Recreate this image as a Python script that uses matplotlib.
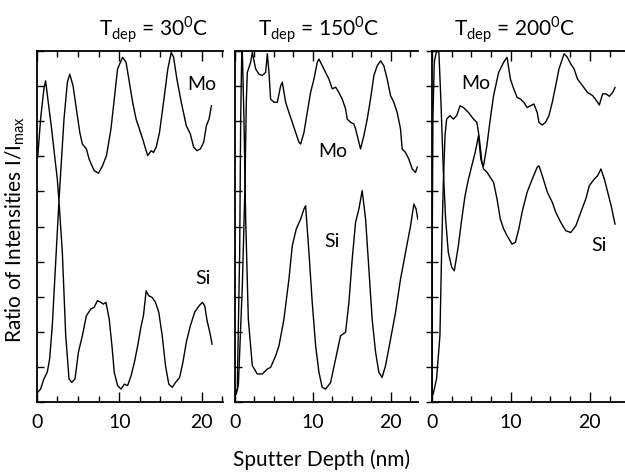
import matplotlib
matplotlib.use("Agg")
import matplotlib.pyplot as plt
from matplotlib.ticker import MultipleLocator

plt.rcParams['font.family'] = ['Lato', 'DejaVu Sans']
plt.rcParams['mathtext.fontset'] = 'custom'
plt.rcParams['mathtext.rm'] = 'Lato'

# T_dep = 30 C
mo30_x = [0.1, 0.45, 0.85, 1.06, 1.38, 1.79, 2.20, 2.48, 2.68, 2.89, 3.29, 3.70, 3.99, 4.39, 4.79,
          5.21, 5.52, 6.01, 6.34, 6.95, 7.48, 7.96, 8.45, 8.99, 9.39, 9.79, 10.40, 10.82, 11.22,
          11.62, 12.04, 12.44, 12.84, 13.13, 13.45, 13.87, 14.15, 14.48, 14.88, 15.37, 15.89,
          16.30, 16.59, 16.99, 17.52, 18.13, 18.62, 19.02, 19.43, 19.84, 20.24, 20.57, 20.89, 21.18]
mo30_y = [0.697, 0.806, 0.892, 0.915, 0.854, 0.778, 0.692, 0.635, 0.573, 0.654, 0.806, 0.911,
          0.934, 0.901, 0.835, 0.768, 0.735, 0.721, 0.692, 0.659, 0.652, 0.673, 0.702, 0.778,
          0.863, 0.949, 0.982, 0.968, 0.911, 0.854, 0.806, 0.778, 0.749, 0.726, 0.702, 0.716,
          0.711, 0.726, 0.768, 0.854, 0.949, 0.996, 0.982, 0.920, 0.854, 0.787, 0.764, 0.726,
          0.716, 0.721, 0.740, 0.787, 0.806, 0.844]
si30_x = [0.1, 0.45, 0.85, 1.26, 1.55, 1.87, 2.28, 2.68, 3.09, 3.50, 3.90, 4.23, 4.63, 5.04,
          5.52, 6.01, 6.55, 6.95, 7.35, 7.77, 8.05, 8.38, 8.78, 9.11, 9.39, 9.79, 10.21, 10.61,
          11.01, 11.43, 11.83, 12.23, 12.65, 12.93, 13.26, 13.57, 13.99, 14.39, 14.79, 15.21,
          15.61, 16.01, 16.43, 16.83, 17.32, 17.72, 18.13, 18.62, 19.15, 19.67, 20.09, 20.37,
          20.65, 20.98, 21.26]
si30_y = [0.028, 0.037, 0.066, 0.085, 0.123, 0.217, 0.398, 0.573, 0.426, 0.189, 0.066, 0.056,
          0.066, 0.142, 0.189, 0.246, 0.265, 0.270, 0.289, 0.284, 0.279, 0.284, 0.236, 0.160,
          0.085, 0.047, 0.037, 0.051, 0.047, 0.075, 0.113, 0.160, 0.217, 0.246, 0.317, 0.303,
          0.298, 0.284, 0.256, 0.189, 0.103, 0.051, 0.042, 0.056, 0.070, 0.113, 0.170, 0.217,
          0.256, 0.274, 0.284, 0.274, 0.232, 0.199, 0.165]

# T_dep = 150 C
mo150_x = [0.17, 0.43, 0.94, 1.28, 1.45, 1.58, 2.01, 2.22, 2.65, 3.08, 3.50, 3.93, 4.15, 4.36,
           4.57, 5.00, 5.43, 5.86, 6.07, 6.50, 6.92, 7.35, 7.78, 8.21, 8.42, 8.85, 9.27, 9.70,
           10.13, 10.56, 10.77, 11.20, 11.62, 12.05, 12.48, 12.91, 13.33, 13.76, 14.19, 14.40,
           14.83, 15.26, 15.47, 15.90, 16.11, 16.54, 16.97, 17.39, 17.82, 18.25, 18.68, 19.10,
           19.53, 19.96, 20.38, 20.81, 21.24, 21.45, 21.88, 22.31, 22.74, 23.16, 23.38]
mo150_y = [0.023, 0.047, 0.331, 0.616, 0.854, 0.939, 0.968, 0.996, 0.949, 0.934, 0.930, 0.939,
           0.992, 0.939, 0.863, 0.854, 0.854, 0.901, 0.911, 0.854, 0.825, 0.797, 0.768, 0.740,
           0.735, 0.768, 0.825, 0.882, 0.920, 0.968, 0.977, 0.958, 0.939, 0.920, 0.892, 0.897,
           0.882, 0.863, 0.835, 0.806, 0.797, 0.792, 0.778, 0.740, 0.721, 0.759, 0.806, 0.863,
           0.930, 0.958, 0.972, 0.958, 0.920, 0.873, 0.854, 0.825, 0.778, 0.721, 0.711, 0.692,
           0.664, 0.654, 0.669]
si150_x = [0.05, 0.29, 0.60, 0.73, 0.86, 0.94, 1.15, 1.37, 1.71, 2.22, 2.86, 3.50, 4.14, 4.58,
           5.22, 5.64, 6.28, 6.92, 7.35, 7.86, 8.42, 8.85, 9.06, 9.49, 9.91, 10.35, 10.77, 11.19,
           11.63, 12.27, 12.91, 13.55, 14.19, 14.62, 15.04, 15.47, 15.90, 16.32, 16.76, 17.18,
           17.60, 18.04, 18.46, 18.88, 19.32, 19.96, 20.60, 21.24, 21.88, 22.53, 22.95, 23.24,
           23.46]
si150_y = [0.028, 0.037, 0.426, 0.806, 0.987, 1.0, 0.806, 0.521, 0.236, 0.104, 0.080, 0.080,
           0.094, 0.099, 0.132, 0.160, 0.236, 0.350, 0.445, 0.493, 0.521, 0.550, 0.559, 0.426,
           0.284, 0.160, 0.085, 0.042, 0.037, 0.056, 0.123, 0.189, 0.199, 0.284, 0.407, 0.512,
           0.550, 0.602, 0.521, 0.379, 0.236, 0.142, 0.085, 0.070, 0.104, 0.179, 0.255, 0.350,
           0.426, 0.502, 0.564, 0.550, 0.521]

# T_dep = 200 C
mo200_x = [0.17, 0.59, 1.02, 1.23, 1.44, 1.66, 1.87, 2.29, 2.72, 3.14, 3.57, 3.99, 4.63, 5.27,
           5.69, 5.90, 6.11, 6.33, 6.54, 6.96, 7.39, 7.81, 8.45, 9.09, 9.51, 9.94, 10.36, 10.79,
           11.21, 11.63, 12.06, 12.48, 12.91, 13.33, 13.55, 13.97, 14.39, 14.82, 15.24, 15.67,
           16.09, 16.73, 17.15, 17.58, 18.00, 18.43, 19.07, 19.70, 20.34, 20.98, 21.19, 21.61,
           22.04, 22.46, 22.89, 23.18]
mo200_y = [0.023, 0.066, 0.189, 0.426, 0.616, 0.759, 0.806, 0.816, 0.806, 0.816, 0.844, 0.839,
           0.825, 0.806, 0.797, 0.768, 0.730, 0.683, 0.673, 0.730, 0.806, 0.873, 0.939, 0.968,
           0.982, 0.920, 0.892, 0.868, 0.863, 0.854, 0.839, 0.844, 0.849, 0.825, 0.797, 0.789,
           0.797, 0.816, 0.854, 0.901, 0.949, 0.992, 0.982, 0.963, 0.949, 0.920, 0.901, 0.882,
           0.873, 0.854, 0.846, 0.878, 0.878, 0.871, 0.882, 0.896]
si200_x = [0.02, 0.04, 0.13, 0.30, 0.59, 0.89, 1.15, 1.44, 1.74, 2.08, 2.51, 2.84, 3.35, 3.78,
           4.20, 4.63, 5.05, 5.48, 5.90, 6.20, 6.54, 6.96, 7.39, 7.81, 8.24, 8.66, 9.09, 9.51,
           10.15, 10.57, 11.00, 11.42, 12.06, 12.70, 13.33, 13.55, 13.97, 14.61, 15.24, 15.67,
           16.31, 16.94, 17.58, 18.22, 18.85, 19.49, 19.92, 20.55, 20.98, 21.40, 21.83, 22.25,
           22.68, 23.18]
si200_y = [0.01, 0.426, 0.806, 0.968, 1.0, 0.996, 0.854, 0.664, 0.521, 0.426, 0.384, 0.374,
           0.445, 0.521, 0.588, 0.635, 0.673, 0.711, 0.759, 0.692, 0.664, 0.655, 0.640, 0.626,
           0.579, 0.521, 0.493, 0.474, 0.450, 0.455, 0.493, 0.541, 0.598, 0.635, 0.669, 0.673,
           0.645, 0.598, 0.569, 0.541, 0.512, 0.488, 0.483, 0.502, 0.541, 0.579, 0.616, 0.635,
           0.645, 0.664, 0.635, 0.598, 0.560, 0.507]

titles = [r'T$_{\mathrm{dep}}$ = 30$^{\mathrm{0}}$C',
          r'T$_{\mathrm{dep}}$ = 150$^{\mathrm{0}}$C',
          r'T$_{\mathrm{dep}}$ = 200$^{\mathrm{0}}$C']
title_x = [0.246, 0.509, 0.824]
mo_label = [(20.0, 0.906), (12.5, 0.716), (5.5, 0.91)]
si_label = [(20.2, 0.355), (12.5, 0.46), (21.2, 0.45)]

fig = plt.figure(figsize=(6.25, 4.77), dpi=100)
boxes = [[0.059, 0.155, 0.298, 0.736],
         [0.376, 0.155, 0.293, 0.736],
         [0.691, 0.155, 0.311, 0.736]]
xmax = [22.6, 23.5, 24.6]
curves = [(mo30_x, mo30_y, si30_x, si30_y),
          (mo150_x, mo150_y, si150_x, si150_y),
          (mo200_x, mo200_y, si200_x, si200_y)]

for i in range(3):
    ax = fig.add_axes(boxes[i])
    mx, my, sx, sy = curves[i]
    ax.plot(mx, my, color='black', lw=1.0)
    ax.plot(sx, sy, color='black', lw=1.0)
    ax.set_xlim(0, xmax[i])
    ax.set_ylim(0, 1)
    ax.spines['right'].set_visible(False)
    for s in ['left', 'top', 'bottom']:
        ax.spines[s].set_linewidth(1.3)
    ax.xaxis.set_major_locator(MultipleLocator(10))
    ax.xaxis.set_minor_locator(MultipleLocator(2.5))
    ax.yaxis.set_major_locator(MultipleLocator(0.1))
    ax.set_yticklabels([])
    ax.tick_params(axis='x', which='major', direction='in', length=7, width=1,
                   top=True, labelsize=14, pad=8)
    ax.tick_params(axis='x', which='minor', direction='in', length=4, width=1, top=True)
    if i == 2:
        ax.tick_params(axis='y', direction='inout', length=9, width=1, right=False)
    else:
        ax.tick_params(axis='y', direction='in', length=5, width=1, right=False)
    ax.text(mo_label[i][0], mo_label[i][1], 'Mo', fontsize=14, ha='center', va='center')
    ax.text(si_label[i][0], si_label[i][1], 'Si', fontsize=14, ha='center', va='center')
    fig.text(title_x[i], 0.937, titles[i], fontsize=15, ha='center', va='center')

fig.text(0.024, 0.518, r'Ratio of Intensities I/I$_{\mathrm{max}}$', fontsize=15,
         rotation=90, ha='center', va='center')
fig.text(0.515, 0.036, 'Sputter Depth (nm)', fontsize=15, ha='center', va='center')

fig.savefig('out.png', dpi=100)
